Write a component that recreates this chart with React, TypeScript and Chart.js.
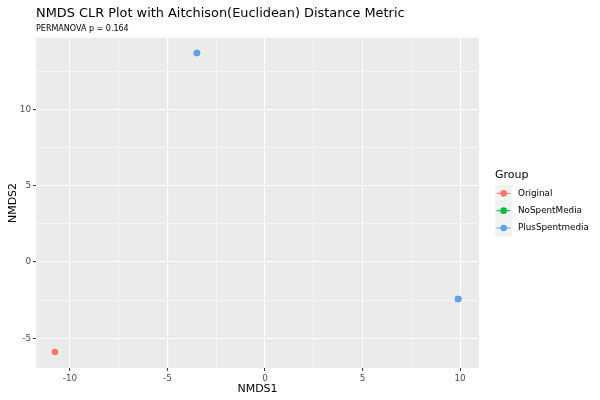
import React, { useEffect, useRef } from "react";
import { Chart, registerables } from "chart.js";

Chart.register(...registerables);

const groups = ["Original", "NoSpentMedia", "PlusSpentmedia"];
const colors = ["#F8766D", "#00BA38", "#619CFF"];
const originalX = [-10.77];
const originalY = [-5.89];
const noSpentX = [-3.49, 9.9];
const noSpentY = [13.69, -2.42];
const plusSpentX = [-3.49, 9.9];
const plusSpentY = [13.69, -2.42];
const titleText = "NMDS CLR Plot with Aitchison(Euclidean) Distance Metric";
const subtitleText = "PERMANOVA p = 0.164";
const xTitle = "NMDS1";
const yTitle = "NMDS2";
const legendTitle = "Group";

const FONT = "'DejaVu Sans', sans-serif";

const toPts = (xs: number[], ys: number[]) => xs.map((x, i) => ({ x, y: ys[i] }));

const isMajor = (v: number) => Math.abs(v / 5 - Math.round(v / 5)) < 1e-6;

const ggPlugin = {
  id: "gg",
  beforeDraw(chart: any) {
    const { ctx, chartArea } = chart;
    const { left, top, right, bottom } = chartArea;
    ctx.save();
    ctx.fillStyle = "#EBEBEB";
    ctx.fillRect(left, top, right - left, bottom - top);
    ctx.restore();
  },
  afterDraw(chart: any) {
    const { ctx, chartArea } = chart;
    const { left, top, right, bottom } = chartArea;
    ctx.save();
    ctx.fillStyle = "#000000";
    ctx.textAlign = "left";
    ctx.textBaseline = "alphabetic";
    ctx.font = `12.9px ${FONT}`;
    ctx.fillText(titleText, left, 17);
    ctx.font = `8px ${FONT}`;
    ctx.fillText(subtitleText, left, 31.3);

    // axis titles
    ctx.font = `11px ${FONT}`;
    ctx.textAlign = "center";
    ctx.textBaseline = "middle";
    ctx.fillText(xTitle, (left + right) / 2, 389);
    ctx.save();
    ctx.translate(13, (top + bottom) / 2);
    ctx.rotate(-Math.PI / 2);
    ctx.fillText(yTitle, 0, 0);
    ctx.restore();

    // legend
    const keyLeft = 495;
    const keySize = 17.3;
    const firstTop = 184.7;
    ctx.textAlign = "left";
    ctx.font = `11px ${FONT}`;
    ctx.fillText(legendTitle, keyLeft, 175);
    ctx.font = `8.8px ${FONT}`;
    groups.forEach((g, i) => {
      const ky = firstTop + i * keySize;
      ctx.fillStyle = "#F2F2F2";
      ctx.fillRect(keyLeft, ky, keySize, keySize);
      const cy = ky + keySize / 2;
      const cx = keyLeft + keySize / 2;
      ctx.strokeStyle = colors[i];
      ctx.lineWidth = 1;
      ctx.beginPath();
      ctx.moveTo(keyLeft + 1.7, cy);
      ctx.lineTo(keyLeft + keySize - 1.7, cy);
      ctx.stroke();
      ctx.fillStyle = colors[i];
      ctx.beginPath();
      ctx.arc(cx, cy, 3.3, 0, Math.PI * 2);
      ctx.fill();
      ctx.fillStyle = "#000000";
      ctx.fillText(g, 518, cy);
    });
    ctx.restore();
  },
};

export default function App() {
  const ref = useRef<HTMLCanvasElement | null>(null);
  useEffect(() => {
    if (!ref.current) return;
    const gridOpts = {
      color: "#FFFFFF",
      lineWidth: (c: any) => (c.tick && isMajor(c.tick.value) ? 1.1 : 0.55),
      tickColor: (c: any) => (c.tick && isMajor(c.tick.value) ? "#333333" : "rgba(0,0,0,0)"),
      tickWidth: 1,
      tickLength: 3,
      drawTicks: true,
    };
    const tickOpts = {
      stepSize: 2.5,
      includeBounds: false,
      color: "#4D4D4D",
      font: { family: FONT, size: 8.8 },
      padding: 2,
      maxRotation: 0,
      autoSkip: false,
      callback: (v: any) => (isMajor(Number(v)) ? String(Math.round(Number(v))) : ""),
    };
    const chart = new Chart(ref.current, {
      type: "scatter",
      data: {
        datasets: [
          {
            label: groups[0],
            data: toPts(originalX, originalY),
            backgroundColor: colors[0],
            borderWidth: 0,
            pointRadius: 3.3,
            order: 1,
          },
          {
            label: groups[1],
            data: toPts(noSpentX, noSpentY),
            backgroundColor: colors[1],
            borderWidth: 0,
            pointRadius: 3.3,
            order: 2,
          },
          {
            label: groups[2],
            data: toPts(plusSpentX, plusSpentY),
            backgroundColor: colors[2],
            borderWidth: 0,
            pointRadius: 3.3,
            order: 0,
          },
        ],
      },
      options: {
        animation: false,
        responsive: false,
        layout: { padding: { left: 0, top: 38, right: 121, bottom: 0 } },
        plugins: {
          legend: { display: false },
          tooltip: { enabled: false },
          title: { display: false },
        },
        scales: {
          x: {
            type: "linear",
            position: "bottom",
            min: -11.74,
            max: 10.97,
            grid: gridOpts as any,
            border: { display: false },
            ticks: tickOpts as any,
            afterFit: (s: any) => {
              s.height = 32;
            },
          },
          y: {
            type: "linear",
            position: "left",
            min: -6.94,
            max: 14.67,
            grid: gridOpts as any,
            border: { display: false },
            ticks: tickOpts as any,
            afterFit: (s: any) => {
              s.width = 36;
            },
          },
        },
      },
      plugins: [ggPlugin],
    });
    return () => chart.destroy();
  }, []);
  return (
    <div style={{ position: "fixed", left: 0, top: 0, width: 600, height: 400 }}>
      <canvas ref={ref} width={600} height={400} style={{ display: "block" }} />
    </div>
  );
}
